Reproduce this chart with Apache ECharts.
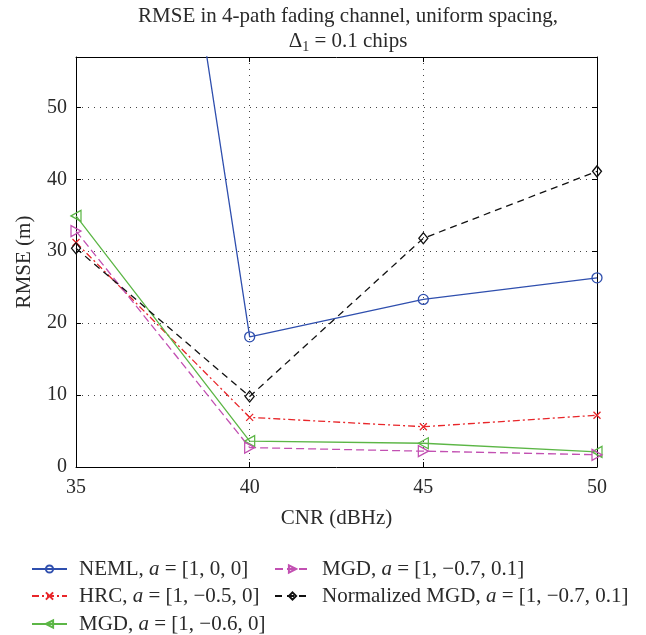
<!DOCTYPE html>
<html><head><meta charset="utf-8">
<script src="https://cdn.jsdelivr.net/npm/echarts@6/dist/echarts.min.js"></script>
<style>html,body{margin:0;padding:0;background:#fff}#c{width:646px;height:635px}</style>
</head><body><div id="c"></div>
<script>
const cnr = [35, 40, 45, 50];
const xTicks = [35, 40, 45, 50];
const yTicks = [0, 10, 20, 30, 40, 50];
const nemlVals = [176, 18.1, 23.3, 26.3];
const hrcVals = [31.2, 6.9, 5.6, 7.2];
const mgd06Vals = [34.9, 3.6, 3.3, 2.1];
const mgd07Vals = [32.8, 2.7, 2.2, 1.7];
const nmgdVals = [30.4, 9.8, 31.8, 41.1];
const legendText = {
  NEML: '{n|NEML, }{i|a}{n| = [1, 0, 0]}',
  HRC: '{n|HRC, }{i|a}{n| = [1, −0.5, 0]}',
  MGD1: '{n|MGD, }{i|a}{n| = [1, −0.6, 0]}',
  MGD2: '{n|MGD, }{i|a}{n| = [1, −0.7, 0.1]}',
  NMGD: '{n|Normalized MGD, }{i|a}{n| = [1, −0.7, 0.1]}'
};
const F = '"Liberation Serif", "DejaVu Serif", serif';
const TC = '#2a2a2a';
const FS = 21;
const pair = v => cnr.map((x, i) => [x, v[i]]);
const hollow = c => ({color: 'rgba(255,255,255,0)', borderColor: c, borderWidth: 1.3});
function mk(name, vals, color, symbol, size, lineType) {
  return {
    name, type: 'line', data: pair(vals), clip: true,
    symbol, symbolSize: size, showSymbol: true,
    lineStyle: {color, width: 1.3, type: lineType},
    itemStyle: hollow(color),
    emphasis: {disabled: true}, animation: false
  };
}
const legendCommon = {
  orient: 'horizontal', itemWidth: 35, itemHeight: 9,
  textStyle: {fontFamily: F, fontSize: FS, color: TC, lineHeight: 24, padding: [0, 0, 0, 7],
    rich: {n: {fontFamily: F, fontSize: FS, color: TC, lineHeight: 24},
           i: {fontFamily: F, fontSize: FS, fontStyle: 'italic', color: TC, lineHeight: 24}}},
  formatter: n => legendText[n], selectedMode: false
};
const leg = (name, left, top) => Object.assign({}, legendCommon, {left, top, data: [name]});
const chart = echarts.init(document.getElementById('c'), null, {renderer: 'canvas'});
const axisLine = {show: true, onZero: false, lineStyle: {color: '#000', width: 1}};
const tick = {show: true, inside: true, length: 5, lineStyle: {color: '#000'}};
const dotted = {show: true, lineStyle: {color: '#444', width: 1, type: [1, 5]}};
chart.setOption({
  animation: false,
  backgroundColor: '#fff',
  title: {
    text: 'RMSE in 4-path fading channel, uniform spacing,\nΔ{s|1} = 0.1 chips',
    left: 343, top: -1, textAlign: 'center',
    textStyle: {fontFamily: F, fontSize: FS, fontWeight: 'normal', color: TC, lineHeight: 25,
      rich: {s: {fontFamily: F, fontSize: 14, verticalAlign: 'bottom', lineHeight: 25, padding: [7, 0, 0, 0]}}}
  },
  grid: {left: 76, right: 49, top: 57, bottom: 168, show: false},
  legend: [
    leg('NEML', 26, 552), leg('HRC', 26, 579), leg('MGD1', 26, 607),
    leg('MGD2', 269, 552), leg('NMGD', 269, 579)
  ],
  xAxis: [
    {type: 'value', min: 35, max: 50, interval: 5, position: 'bottom',
     name: 'CNR (dBHz)', nameLocation: 'middle', nameGap: 41,
     nameTextStyle: {fontFamily: F, fontSize: FS, color: TC},
     axisLine, axisTick: tick, splitLine: dotted,
     axisLabel: {fontFamily: F, fontSize: 20, color: TC, margin: 11,
       formatter: v => xTicks.includes(v) ? String(v) : ''}},
    {type: 'value', min: 35, max: 50, interval: 5, position: 'top',
     axisLine, axisTick: tick, splitLine: {show: false}, axisLabel: {show: false}}
  ],
  yAxis: [
    {type: 'value', min: 0, max: 57, interval: 10, position: 'left',
     name: 'RMSE (m)', nameLocation: 'middle', nameGap: 41,
     nameTextStyle: {fontFamily: F, fontSize: FS, color: TC},
     axisLine, axisTick: tick, splitLine: dotted,
     axisLabel: {fontFamily: F, fontSize: 20, color: TC, margin: 9, showMaxLabel: false,
       formatter: v => yTicks.includes(v) ? String(v) : ''}},
    {type: 'value', min: 0, max: 57, interval: 10, position: 'right',
     axisLine, axisTick: tick, splitLine: {show: false}, axisLabel: {show: false}}
  ],
  series: [
    mk('NEML', nemlVals, '#2f4fae', 'circle', 10, 'solid'),
    mk('HRC', hrcVals, '#e8262a', 'path://M0,0L10,10M10,0L0,10', 7, [7, 3, 2, 3]),
    mk('MGD1', mgd06Vals, '#5cb646', 'path://M0,5L10,0L10,10Z', [10, 11], 'solid'),
    mk('MGD2', mgd07Vals, '#c250b2', 'path://M10,5L0,0L0,10Z', [10, 11], [8, 4]),
    mk('NMGD', nmgdVals, '#111111', 'diamond', [9, 11], [7, 5])
  ]
});
</script></body></html>
